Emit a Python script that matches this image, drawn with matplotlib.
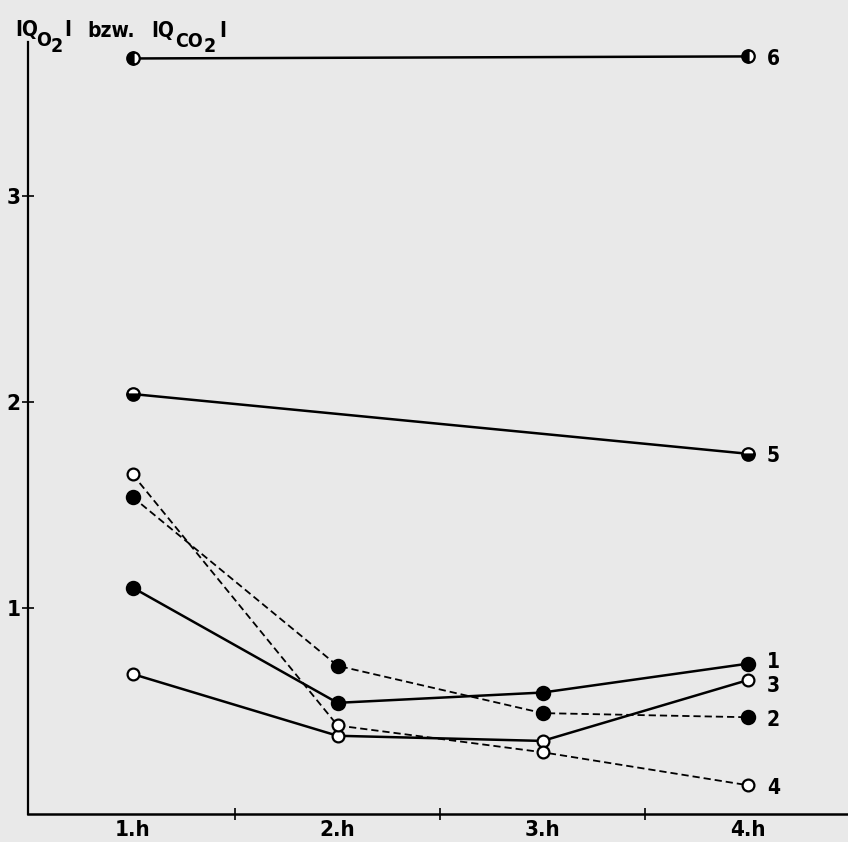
import matplotlib.pyplot as plt

plt.rcParams['font.family'] = ['DejaVu Sans']
cond = dict(fontweight='bold', fontstretch='condensed')

# hours after start
hours = [1, 2, 3, 4]
hour_labels = ['1.h', '2.h', '3.h', '4.h']

# |Q| values per experiment
q1 = [1.10, 0.54, 0.59, 0.73]
q2 = [1.54, 0.72, 0.49, 0.47]
q3 = [0.68, 0.38, 0.355, 0.65]
q4 = [1.65, 0.43, 0.30, 0.14]
q5 = [2.04, 1.75]
q6 = [3.67, 3.68]
hours_56 = [1, 4]

paper = '#e9e9e9'
W, H = 848, 842
fig = plt.figure(figsize=(W / 100, H / 100), dpi=100, facecolor=paper)
ax = fig.add_axes([28 / W, 1 - 814 / H, 1 - 28 / W, (814 - 42) / H])
ax.set_facecolor(paper)

common = dict(color='black', markeredgewidth=1.6, markeredgecolor='black',
              clip_on=False)
dash = (4, 2.2)

ax.plot(hours, q1, '-o', lw=1.8, markersize=9.5, markerfacecolor='black', **common)
ax.plot(hours, q2, '--o', lw=1.3, dashes=dash, markersize=9.5,
        markerfacecolor='black', **common)
ax.plot(hours, q3, '-o', lw=1.8, markersize=8.5, markerfacecolor='white', **common)
ax.plot(hours, q4, '--o', lw=1.3, dashes=dash, markersize=8.5,
        markerfacecolor='white', **common)
ax.plot(hours_56, q5, '-o', lw=1.8, markersize=9, fillstyle='bottom',
        markerfacecolor='black', markerfacecoloralt='white', **common)
ax.plot(hours_56, q6, '-o', lw=1.8, markersize=9, fillstyle='left',
        markerfacecolor='black', markerfacecoloralt='white', **common)

# series numbers at the right end (1 and 3 pushed apart a little)
ends = [(q1[-1], '1', 2.5), (q2[-1], '2', -0.5), (q3[-1], '3', -3),
        (q4[-1], '4', -0.5), (q5[-1], '5', -0.5), (q6[-1], '6', -0.5)]
for y, s, dy in ends:
    ax.annotate(s, (4, y), xytext=(14, dy), textcoords='offset points',
                ha='left', va='center_baseline', fontsize=15, **cond)

ax.set_xlim(0.49, 4.49)
ax.set_ylim(0, 3.75)

ax.spines['top'].set_visible(False)
ax.spines['right'].set_visible(False)
ax.spines['left'].set_linewidth(1.6)
ax.spines['bottom'].set_linewidth(1.8)

ax.set_yticks([1, 2, 3])
ax.set_yticklabels(['1', '2', '3'], fontsize=16, **cond)
ax.tick_params(axis='y', direction='inout', length=9, width=1.2, pad=1)

ax.set_xticks([1.5, 2.5, 3.5])
ax.set_xticklabels([])
ax.tick_params(axis='x', direction='inout', length=9, width=1.2)
for h, lab in zip(hours, hour_labels):
    ax.text(h, -0.008, lab, ha='center', va='top', fontsize=16,
            transform=ax.get_xaxis_transform(), **cond)

# axis title built from pieces so the subscripts sit low and large
pieces = [(15, 36, 'IQ', 15), (36, 46, 'O', 14), (51, 52, '2', 14),
          (64, 36, 'I', 15), (87, 37, 'bzw.', 15), (151, 37, 'IQ', 15),
          (175, 47, 'CO', 14), (204, 52, '2', 14), (219, 37, 'I', 15)]
for px, py, s, size in pieces:
    fig.text(px / W, 1 - py / H, s, fontsize=size, ha='left', va='baseline',
             **cond)

fig.savefig('out.png', dpi=100, facecolor=paper)
